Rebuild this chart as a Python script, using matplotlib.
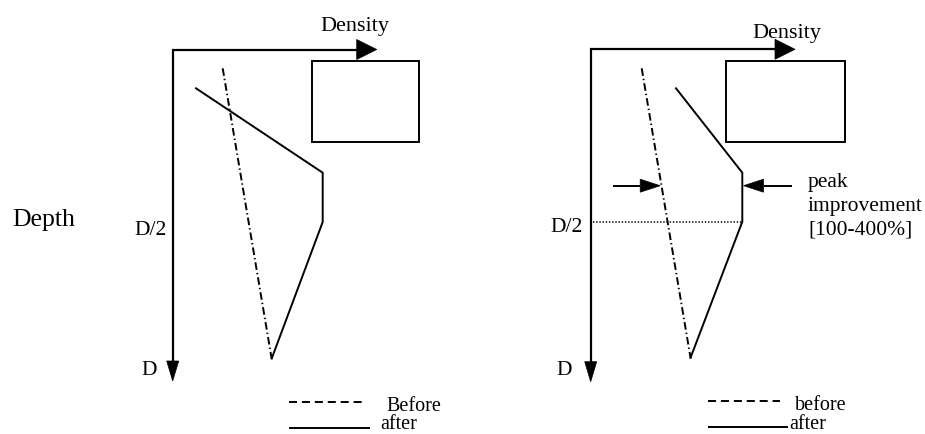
import matplotlib
matplotlib.use("Agg")
import matplotlib.pyplot as plt
import matplotlib.transforms as mtransforms
from matplotlib.patches import Rectangle, Polygon

plt.rcParams['font.family'] = ['Liberation Serif', 'DejaVu Serif']
plt.rcParams['lines.scale_dashes'] = False

# ---------------- data (panel units: density to the right, depth downward) -------------
panel_origin_x = [172.7, 590.7]
panel_origin_y = [49.5, 49.3]

density_axis_len = [204.0, 204.3]
depth_axis_len = [331.5, 332.4]

before_density = [[50.0, 99.0], [51.0, 100.0]]
before_depth = [[18.8, 309.5], [19.0, 309.5]]

after_density = [[23.3, 150.0, 150.0, 99.0], [85.3, 151.6, 151.6, 100.0]]
after_depth = [[38.8, 123.2, 172.5, 309.0], [39.0, 123.4, 172.4, 308.0]]

box_x = [139.6, 135.0]
box_y = [11.5, 11.7]
box_w = [107.0, 119.3]
box_h = [80.7, 80.7]

half_depth_level = 172.4           # D/2 reference (right panel dotted line)
peak_arrow_depth = 136.4
peak_arrow_left = [22.6, 69.5]     # tail, tip
peak_arrow_right = [201.0, 152.8]  # tail, tip

title_label = "Density"
depth_label = "Depth"
half_label = "D/2"
full_label = "D"
legend_labels = [["Before", "after"], ["before", "after"]]
peak_lines = ["peak", "improvement", "[100-400%]"]

density_label_x = [182.3, 196.0]
density_label_y = [-18.8, -11.5]
half_label_x = [-6.0, -8.0]
half_label_y = [185.5, 183.0]
full_label_x = [-16.0, -19.0]
full_label_y = [325.5, 325.7]

legend_line_x0 = [116.6, 117.3]
legend_dash_x1 = [189.0, 189.3]
legend_solid_x1 = [197.3, 197.3]
legend_y = [[352.2, 378.2], [351.7, 377.7]]
legend_text_x = [[213.3, 207.3], [204.3, 198.3]]
legend_text_y = [[361.5, 379.8], [361.0, 380.0]]

peak_text_x = 217.3
peak_text_y = [137.7, 161.7, 185.7]

# ---------------- figure ----------------
W, H = 925, 434
fig = plt.figure(figsize=(W / 100, H / 100), dpi=100)
ax = fig.add_axes([0, 0, 1, 1])
ax.set_xlim(0, W)
ax.set_ylim(H, 0)
ax.axis("off")

LW_AX = 1.6
LW = 1.4
dashdot = (0, (5.5, 2.2, 1.0, 2.2))
dashed = (0, (5.8, 3.5))

for p in range(2):
    tr = mtransforms.Affine2D().translate(panel_origin_x[p], panel_origin_y[p]) + ax.transData

    # axes with arrowheads
    hlen, vlen = density_axis_len[p], depth_axis_len[p]
    ax.plot([hlen - 20, 0, 0], [0, 0, vlen - 19], color="black", lw=LW_AX,
            solid_joinstyle="miter", solid_capstyle="butt", transform=tr)
    ax.add_patch(Polygon([[hlen - 20, -10], [hlen, 0], [hlen - 20, 10]], closed=True,
                         facecolor="black", edgecolor="black", lw=0.5, transform=tr))
    ax.add_patch(Polygon([[-6, vlen - 20], [0, vlen], [6, vlen - 20]], closed=True,
                         facecolor="black", edgecolor="black", lw=0.5, transform=tr))

    # box
    ax.add_patch(Rectangle((box_x[p], box_y[p]), box_w[p], box_h[p], fill=False,
                           edgecolor="black", lw=LW, transform=tr))

    # profiles
    ax.plot(before_density[p], before_depth[p], color="black", lw=LW,
            linestyle=dashdot, transform=tr)
    ax.plot(after_density[p], after_depth[p], color="black", lw=LW,
            solid_joinstyle="miter", transform=tr)

    # labels
    ax.text(density_label_x[p], density_label_y[p], title_label, fontsize=16,
            ha="center", va="baseline", transform=tr)
    ax.text(half_label_x[p], half_label_y[p], half_label, fontsize=15.5,
            ha="right", va="baseline", transform=tr)
    ax.text(full_label_x[p], full_label_y[p], full_label, fontsize=15.5,
            ha="right", va="baseline", transform=tr)

    # legend samples
    ax.plot([legend_line_x0[p], legend_dash_x1[p]], [legend_y[p][0]] * 2, color="black",
            lw=LW, linestyle=dashed, transform=tr)
    ax.plot([legend_line_x0[p], legend_solid_x1[p]], [legend_y[p][1]] * 2, color="black",
            lw=LW, solid_capstyle="butt", transform=tr)
    for k in range(2):
        ax.text(legend_text_x[p][k], legend_text_y[p][k], legend_labels[p][k],
                fontsize=14.5, ha="left", va="baseline", transform=tr)

    if p == 0:
        ax.text(-160.0, 176.5, depth_label, fontsize=18.5, ha="left", va="baseline",
                transform=tr)
    else:
        # dotted D/2 reference line
        ax.plot([2.6, after_density[p][1]], [half_depth_level] * 2, color="black", lw=1.1,
                linestyle=(0, (1.0, 1.3)), transform=tr)
        # peak improvement arrows
        for tail, tip in (peak_arrow_left, peak_arrow_right):
            d = 1 if tip > tail else -1
            base = tip - d * 20
            ax.plot([tail, base], [peak_arrow_depth] * 2, color="black", lw=LW,
                    solid_capstyle="butt", transform=tr)
            ax.add_patch(Polygon([[base, peak_arrow_depth - 6.5], [tip, peak_arrow_depth],
                                  [base, peak_arrow_depth + 6.5]], closed=True,
                                 facecolor="black", edgecolor="black", lw=0.5, transform=tr))
        for line, yy in zip(peak_lines, peak_text_y):
            ax.text(peak_text_x, yy, line, fontsize=15.5, ha="left", va="baseline",
                    transform=tr)

fig.savefig("out.png", dpi=100)
